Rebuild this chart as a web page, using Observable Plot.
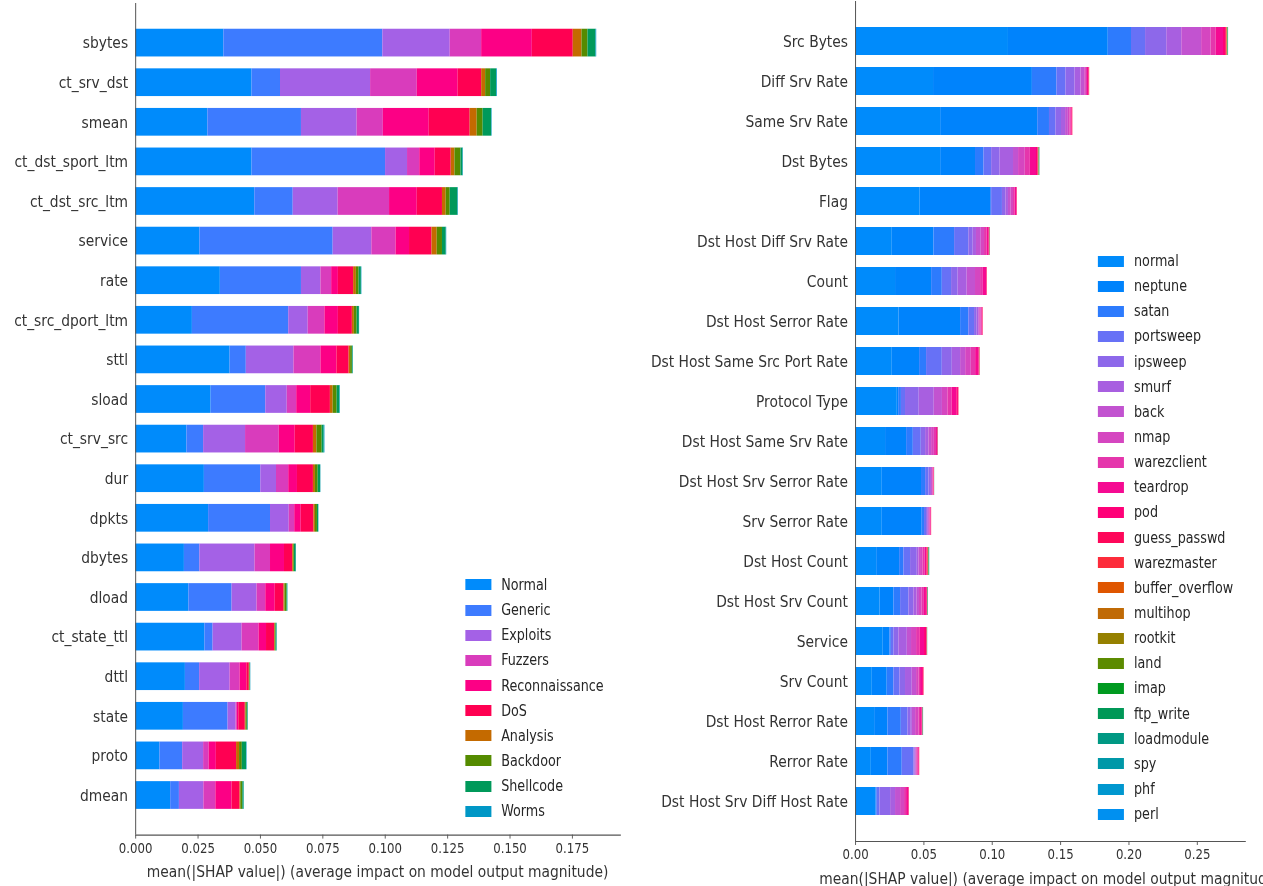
<!DOCTYPE html>
<html>
<head>
<meta charset="utf-8">
<script src="https://cdn.jsdelivr.net/npm/d3@7"></script>
<script src="https://cdn.jsdelivr.net/npm/@observablehq/plot@0.6"></script>
<style>
  html, body { margin: 0; padding: 0; background: #fff; overflow: hidden; }
  /* the figure is laid out wide and then narrowed horizontally */
  #figure { position: absolute; left: 0; top: 0; width: 1504px; height: 886px;
            transform: scaleX(0.84); transform-origin: 0 0;
            font-family: "DejaVu Sans", sans-serif; color: #333; }
  .panel { position: absolute; top: 0; }
  .legend { position: absolute; }
  .legend .row { display: flex; align-items: center; height: 25.15px; font-size: 15.2px;
                 color: #262626; white-space: nowrap; }
  .legend .sw { width: 31px; height: 11px; margin-right: 12px; flex: none; }
  .xtitle { position: absolute; font-size: 16.5px; white-space: nowrap; color: #333;
            transform: translate(-50%, -50%); }
</style>
</head>
<body>
<div id="figure">
  <div class="panel" id="leftPanel" style="left:0px"></div>
  <div class="panel" id="rightPanel" style="left:750px"></div>
  <div class="legend" id="leftLegend" style="left:553.6px; top:572.4px"></div>
  <div class="legend" id="rightLegend" style="left:1307px; top:248.5px"></div>
  <div class="xtitle" style="left:449.5px; top:871px">mean(|SHAP value|) (average impact on model output magnitude)</div>
  <div class="xtitle" style="left:1250px; top:878px">mean(|SHAP value|) (average impact on model output magnitude)</div>
</div>
<script>
// ---------- UNSW-NB15 model: mean |SHAP| per feature, split by class ----------
const unswFeatures = ["sbytes", "ct_srv_dst", "smean", "ct_dst_sport_ltm", "ct_dst_src_ltm", "service",
  "rate", "ct_src_dport_ltm", "sttl", "sload", "ct_srv_src", "dur", "dpkts", "dbytes", "dload",
  "ct_state_ttl", "dttl", "state", "proto", "dmean"];
const unswClasses = ["Normal", "Generic", "Exploits", "Fuzzers", "Reconnaissance", "DoS",
  "Analysis", "Backdoor", "Shellcode", "Worms"];
const unswColors = ["#008bfb", "#3d7bff", "#a461e6", "#d93cbc", "#fc0085", "#ff0052",
  "#c46a00", "#558b00", "#00995a", "#0097c6"];

const unswNormal   = [.0353, .0466, .0289, .0466, .0477, .0257, .0339, .0227, .0378, .0302, .0205, .0275, .0292, .0195, .0213, .0277, .0199, .0191, .0097, .0140];
const unswGeneric  = [.0637, .0114, .0375, .0535, .0154, .0534, .0325, .0386, .0065, .0219, .0067, .0226, .0248, .0062, .0173, .0033, .0057, .0179, .0091, .0035];
const unswExploits = [.0270, .0361, .0223, .0088, .0180, .0155, .0078, .0078, .0191, .0086, .0168, .0063, .0075, .0221, .0100, .0116, .0122, .0032, .0084, .0098];
const unswFuzzers  = [.0126, .0187, .0105, .0049, .0206, .0097, .0043, .0067, .0108, .0038, .0135, .0049, .0022, .0062, .0035, .0068, .0040, .0005, .0022, .0048];
const unswRecon    = [.0203, .0164, .0184, .0062, .0111, .0054, .0027, .0054, .0064, .0056, .0064, .0035, .0026, .0056, .0038, .0030, .0027, .0006, .0029, .0065];
const unswDoS      = [.0164, .0094, .0164, .0064, .0101, .0090, .0061, .0056, .0049, .0079, .0073, .0064, .0051, .0033, .0035, .0032, .0010, .0026, .0081, .0032];
const unswAnalysis = [.0035, .0016, .0028, .0015, .0015, .0021, .0011, .0008, .0006, .0011, .0014, .0008, .0006, .0004, .0004, .0003, .0002, .0003, .0012, .0003];
const unswBackdoor = [.0024, .0020, .0024, .0024, .0016, .0021, .0011, .0011, .0007, .0016, .0021, .0011, .0008, .0003, .0008, .0003, .0002, .0005, .0011, .0008];
const unswShell    = [.0032, .0024, .0034, .0008, .0031, .0015, .0009, .0009, .0003, .0011, .0008, .0010, .0005, .0007, .0003, .0004, .0001, .0003, .0017, .0005];
const unswWorms    = [.0003, .0003, .0002, .0002, .0002, .0002, .0002, .0001, .0001, .0002, .0003, .0001, .0001, .0001, .0001, .0001, .0001, .0001, .0002, .0001];
const unswTicks = [0, 0.025, 0.05, 0.075, 0.1, 0.125, 0.15, 0.175];

// ---------- NSL-KDD model: mean |SHAP| per feature, split by class ----------
const kddFeatures = ["Src Bytes", "Diff Srv Rate", "Same Srv Rate", "Dst Bytes", "Flag",
  "Dst Host Diff Srv Rate", "Count", "Dst Host Serror Rate", "Dst Host Same Src Port Rate",
  "Protocol Type", "Dst Host Same Srv Rate", "Dst Host Srv Serror Rate", "Srv Serror Rate",
  "Dst Host Count", "Dst Host Srv Count", "Service", "Srv Count", "Dst Host Rerror Rate",
  "Rerror Rate", "Dst Host Srv Diff Host Rate"];
const kddClasses = ["normal", "neptune", "satan", "portsweep", "ipsweep", "smurf", "back", "nmap",
  "warezclient", "teardrop", "pod", "guess_passwd", "warezmaster", "buffer_overflow", "multihop",
  "rootkit", "land", "imap", "ftp_write", "loadmodule", "spy", "phf", "perl"];
const kddColors = ["#008bfb", "#0083fc", "#2d7bfd", "#6771f6", "#8d68ea", "#a85fe0", "#c253d0",
  "#d546c0", "#e536ac", "#f50a92", "#ff0078", "#fe075a", "#fd2b3b", "#df5600", "#c06a05",
  "#958000", "#5c8b00", "#009a20", "#009857", "#009883", "#0098a8", "#0097cf", "#0090f0"];

const kddNormal      = [.1118, .0570, .0622, .0622, .0472, .0268, .0292, .0317, .0268, .0305, .0219, .0195, .0195, .0154, .0178, .0202, .0122, .0139, .0115, .0146];
const kddNeptune     = [.0730, .0723, .0710, .0255, .0516, .0305, .0264, .0451, .0200, .0010, .0154, .0287, .0292, .0168, .0102, .0049, .0109, .0097, .0121, .0005];
const kddSatan       = [.0170, .0179, .0086, .0062, .0007, .0151, .0078, .0060, .0051, .0020, .0049, .0030, .0017, .0031, .0049, .0010, .0049, .0098, .0105, .0007];
const kddPortsweep   = [.0103, .0066, .0047, .0056, .0079, .0104, .0068, .0042, .0115, .0030, .0058, .0024, .0015, .0049, .0061, .0020, .0044, .0049, .0085, .0020];
const kddIpsweep     = [.0155, .0067, .0041, .0062, .0025, .0032, .0048, .0019, .0073, .0100, .0032, .0012, .0008, .0049, .0036, .0036, .0041, .0020, .0007, .0078];
const kddSmurf       = [.0110, .0044, .0030, .0098, .0019, .0024, .0066, .0012, .0061, .0110, .0024, .0007, .0006, .0012, .0024, .0061, .0049, .0012, .0007, .0036];
const kddBack        = [.0145, .0027, .0020, .0037, .0020, .0035, .0061, .0007, .0037, .0060, .0020, .0007, .0006, .0012, .0017, .0031, .0032, .0024, .0005, .0037];
const kddNmap        = [.0069, .0012, .0012, .0049, .0017, .0024, .0037, .0010, .0041, .0040, .0020, .0005, .0005, .0017, .0019, .0037, .0017, .0024, .0005, .0029];
const kddWarezclient = [.0037, .0008, .0008, .0037, .0012, .0019, .0020, .0006, .0032, .0030, .0016, .0004, .0005, .0017, .0017, .0024, .0012, .0012, .0007, .0015];
const kddTeardrop    = [.0054, .0008, .0006, .0045, .0012, .0013, .0024, .0005, .0024, .0035, .0008, .0003, .0004, .0010, .0015, .0034, .0015, .0010, .0007, .0017];
const kddPod         = [.0015, .0004, .0004, .0010, .0003, .0005, .0004, .0002, .0005, .0012, .0002, .0001, .0001, .0004, .0005, .0015, .0007, .0004, .0003, .0002];
const kddGuessPasswd = [.0006, .0002, .0002, .0004, .0001, .0002, .0001, .0002, .0002, .0003, .0002, .0001, .0001, .0004, .0003, .0004, .0003, .0002, .0001, .0001];
const kddWarezmaster = [.0004, .0001, .0001, .0002, .0001, .0001, .0001, .0001, .0001, .0001, .0001, .0001, .0001, .0005, .0001, .0001, .0001, .0001, .0001, .0001];
const kddBufOverflow = [.0002, .0001, .0000, .0001, .0000, .0001, .0000, .0000, .0001, .0000, .0000, .0000, .0000, .0001, .0001, .0001, .0000, .0001, .0000, .0000];
const kddMultihop    = [.0002, .0000, .0000, .0001, .0000, .0000, .0000, .0000, .0000, .0000, .0000, .0000, .0000, .0001, .0000, .0000, .0000, .0000, .0000, .0000];
const kddRootkit     = [.0001, .0000, .0000, .0001, .0000, .0000, .0000, .0000, .0000, .0000, .0000, .0000, .0000, .0001, .0000, .0000, .0000, .0000, .0000, .0000];
const kddLand        = [.0002, .0000, .0000, .0001, .0000, .0000, .0000, .0000, .0000, .0000, .0000, .0000, .0000, .0001, .0001, .0000, .0000, .0000, .0000, .0000];
const kddImap        = [.0001, .0000, .0000, .0001, .0000, .0000, .0000, .0000, .0000, .0000, .0000, .0000, .0000, .0001, .0000, .0000, .0000, .0000, .0000, .0000];
const kddFtpWrite    = [.0002, .0000, .0000, .0003, .0000, .0002, .0000, .0000, .0001, .0000, .0001, .0001, .0000, .0003, .0002, .0002, .0000, .0002, .0000, .0000];
const kddLoadmodule  = [.0001, .0000, .0000, .0001, .0000, .0000, .0000, .0000, .0000, .0000, .0000, .0000, .0000, .0002, .0002, .0000, .0000, .0002, .0000, .0000];
const kddSpy         = [.0001, .0000, .0000, .0000, .0000, .0000, .0000, .0000, .0000, .0000, .0000, .0000, .0000, .0000, .0000, .0000, .0000, .0000, .0000, .0000];
const kddPhf         = [.0000, .0000, .0000, .0000, .0000, .0000, .0000, .0000, .0000, .0000, .0000, .0000, .0000, .0000, .0000, .0000, .0000, .0000, .0000, .0000];
const kddPerl        = [.0000, .0000, .0000, .0000, .0000, .0000, .0000, .0000, .0000, .0000, .0000, .0000, .0000, .0000, .0000, .0000, .0000, .0000, .0000, .0000];
const kddTicks = [0, 0.05, 0.1, 0.15, 0.2, 0.25];

const unswSeries = [unswNormal, unswGeneric, unswExploits, unswFuzzers, unswRecon, unswDoS,
  unswAnalysis, unswBackdoor, unswShell, unswWorms];
const kddSeries = [kddNormal, kddNeptune, kddSatan, kddPortsweep, kddIpsweep, kddSmurf, kddBack,
  kddNmap, kddWarezclient, kddTeardrop, kddPod, kddGuessPasswd, kddWarezmaster, kddBufOverflow,
  kddMultihop, kddRootkit, kddLand, kddImap, kddFtpWrite, kddLoadmodule, kddSpy, kddPhf, kddPerl];

// stacked horizontal bar chart of per-class mean |SHAP| values
function shapBars({features, classes, colors, series, xMax, ticks, tickFormat,
                   width, height, marginLeft, marginRight, marginTop, marginBottom}) {
  const rows = [];
  classes.forEach((c, j) => features.forEach((f, i) => rows.push({feature: f, cls: c, value: series[j][i]})));
  return Plot.plot({
    width, height, marginLeft, marginRight, marginTop, marginBottom,
    style: {fontFamily: "'DejaVu Sans', sans-serif", fontSize: "16.5px", color: "#333", background: "transparent"},
    x: {domain: [0, xMax], label: null},
    y: {domain: features, paddingInner: 0.3, paddingOuter: 0.65, round: false, label: null},
    color: {domain: classes, range: colors},
    marks: [
      Plot.barX(rows, Plot.stackX({x: "value", y: "feature", fill: "cls", order: classes})),
      Plot.ruleX([0], {stroke: "#555", strokeWidth: 1.2}),
      Plot.frame({anchor: "bottom", stroke: "#555", strokeWidth: 1.2}),
      Plot.axisX({ticks, tickFormat, tickSize: 4, tickPadding: 4, fontSize: 14, label: null, stroke: "#555"}),
      Plot.axisY({tickSize: 0, tickPadding: 9, label: null})
    ]
  });
}

function legend(el, classes, colors) {
  classes.forEach((c, i) => {
    const row = document.createElement("div");
    row.className = "row";
    const sw = document.createElement("div");
    sw.className = "sw";
    sw.style.background = colors[i];
    const label = document.createElement("span");
    label.textContent = c;
    row.append(sw, label);
    el.append(row);
  });
}

document.getElementById("leftPanel").append(shapBars({
  features: unswFeatures, classes: unswClasses, colors: unswColors, series: unswSeries,
  xMax: 0.1942, ticks: unswTicks, tickFormat: d3.format(".3f"),
  width: 750, height: 886, marginLeft: 161, marginRight: 12, marginTop: 3, marginBottom: 51.4
}));
document.getElementById("rightPanel").append(shapBars({
  features: kddFeatures, classes: kddClasses, colors: kddColors, series: kddSeries,
  xMax: 0.2851, ticks: kddTicks, tickFormat: d3.format(".2f"),
  width: 754, height: 886, marginLeft: 268, marginRight: 22, marginTop: 1, marginBottom: 45
}));
legend(document.getElementById("leftLegend"), unswClasses, unswColors);
legend(document.getElementById("rightLegend"), kddClasses, kddColors);
</script>
</body>
</html>
